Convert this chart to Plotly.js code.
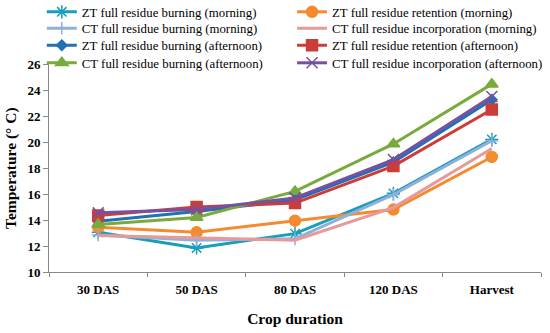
<!DOCTYPE html>
<html><head><meta charset="utf-8">
<script src="https://cdn.plot.ly/plotly-3.0.1.min.js"></script>
<style>html,body{margin:0;padding:0;background:#fff}#chart{width:550px;height:333px}</style>
</head><body><div id="chart"></div>
<script>
var categories = ["30 DAS", "50 DAS", "80 DAS", "120 DAS", "Harvest"];
var ztBurnMorning = [13.05, 11.85, 12.95, 16.05, 20.2];
var ztRetMorning = [13.45, 13.05, 13.95, 14.8, 18.85];
var ctBurnMorning = [12.85, 12.45, 12.55, 15.95, 20.1];
var ctIncMorning = [12.8, 12.65, 12.45, 14.95, 19.5];
var ztBurnAfternoon = [13.9, 14.65, 15.55, 18.45, 23.25];
var ztRetAfternoon = [14.35, 15.0, 15.3, 18.15, 22.5];
var ctBurnAfternoon = [13.65, 14.2, 16.2, 19.85, 24.45];
var ctIncAfternoon = [14.55, 14.8, 15.7, 18.65, 23.5];
var seriesNames = ["ZT full residue burning (morning)", "ZT full residue retention (morning)",
  "CT full residue burning (morning)", "CT full residue incorporation (morning)",
  "ZT full residue burning (afternoon)", "ZT full residue retention (afternoon)",
  "CT full residue burning (afternoon)", "CT full residue incorporation (afternoon)"];
var yTicks = [10, 12, 14, 16, 18, 20, 22, 24, 26];
var xTitle = "Crop duration";
var yTitle = "Temperature (° C)";

var seriesValues = [ztBurnMorning, ztRetMorning, ctBurnMorning, ctIncMorning,
  ztBurnAfternoon, ztRetAfternoon, ctBurnAfternoon, ctIncAfternoon];
var colors = ["#1A9DBA", "#F58A2E", "#8EB0DA", "#E8999A", "#2270B4", "#CC3C38", "#78AB3C", "#7551A0"];
var symbols = ["asterisk-open", "circle", "cross-thin-open", "circle", "diamond", "square", "triangle-up", "x-thin-open"];
var sizes = [11, 11, 9, 0, 8, 11, 11, 11];
var legendX = [0.076, 0.531];
var legendRowY = [12, 28.5, 45.5, 63];

var layout = {
  width: 550, height: 333,
  margin: {l: 49, r: 9, t: 64, b: 61, autoexpand: false},
  paper_bgcolor: "#fff", plot_bgcolor: "#fff",
  font: {family: "Liberation Serif, serif", color: "#000"},
  showlegend: true,
  xaxis: {
    type: "category", range: [-0.5, 4.5], showgrid: false, showline: true, linecolor: "#888", linewidth: 1,
    ticks: "outside", ticklen: 4, tickcolor: "#888", tickson: "boundaries", ticklabelstandoff: 5,
    tickfont: {size: 13, family: "Liberation Serif, serif", weight: "bold"},
    title: {text: "<b>" + xTitle + "</b>", font: {size: 15.5}, standoff: 17},
    zeroline: false
  },
  yaxis: {
    range: [10, 26], tickvals: yTicks, showgrid: false, showline: true, linecolor: "#888", linewidth: 1,
    ticks: "outside", ticklen: 5, tickcolor: "#888",
    tickfont: {size: 13, family: "Liberation Serif, serif", weight: "bold"},
    zeroline: false
  },
  annotations: [{
    text: "<b>" + yTitle + "</b>", textangle: -90, xref: "paper", yref: "paper",
    x: -0.0772, y: 0.5, xanchor: "center", yanchor: "middle", showarrow: false,
    font: {size: 15.5, family: "Liberation Serif, serif", color: "#000"}
  }]
};

var traces = seriesValues.map(function (vals, i) {
  var lid = i === 0 ? "legend" : "legend" + (i + 1);
  layout[lid] = {
    xref: "container", yref: "container", x: legendX[i % 2], y: 1 - legendRowY[Math.floor(i / 2)] / 333,
    xanchor: "left", yanchor: "middle", bgcolor: "rgba(0,0,0,0)", borderwidth: 0,
    font: {size: 12.8, family: "Liberation Serif, serif"}
  };
  return {
    x: categories, y: vals, name: seriesNames[i], type: "scatter", mode: sizes[i] ? "lines+markers" : "lines",
    legend: lid,
    line: {color: colors[i], width: 3},
    marker: {symbol: symbols[i], size: sizes[i], color: colors[i], line: {color: colors[i], width: 1.5}}
  };
});

Plotly.newPlot("chart", traces, layout, {displayModeBar: false, staticPlot: true});
</script></body></html>
